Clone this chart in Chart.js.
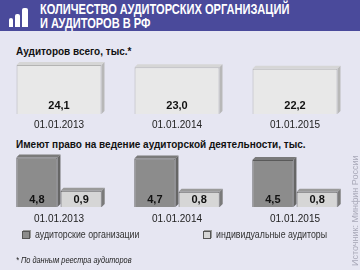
<!DOCTYPE html>
<html>
<head>
<meta charset="utf-8">
<script src="https://cdn.jsdelivr.net/npm/chart.js@4/dist/chart.umd.min.js"></script>
<style>
  body { margin:0; width:360px; height:270px; background:#e6e6f2; font-family:"Liberation Sans", Arial, sans-serif; position:relative; overflow:hidden; }
  .hdr { position:absolute; left:0; top:0; width:360px; height:31px; background:#4a4a9b; }
  .hdr .t { position:absolute; left:40px; top:2px; color:#fff; font-weight:bold; font-size:14px; line-height:14px; white-space:nowrap; transform-origin:0 0; }
  .ic { position:absolute; background:#fff; border-radius:2px 2px 0 0; }
  .sub { position:absolute; left:16px; font-weight:bold; font-size:10px; color:#111; white-space:nowrap; }
  .box { position:absolute; }
  .sq { position:absolute; top:231px; width:6px; height:6px; border:1px solid #555; box-shadow:1px -1px 0 #999; }
  .leg { position:absolute; top:228px; font-size:11px; color:#333; white-space:nowrap; transform:scaleX(0.8); transform-origin:0 0; }
  .note { position:absolute; left:16px; top:255px; font-size:9px; font-style:italic; color:#222; white-space:nowrap; transform:scaleX(0.82); transform-origin:0 0; }
  .src { position:absolute; left:350px; top:266px; font-size:9px; color:#a8a8b8; transform:rotate(-90deg); transform-origin:0 0; white-space:nowrap; }
</style>
</head>
<body>
<div class="hdr">
  <div class="ic" style="left:9px;top:18px;width:4px;height:9px"></div>
  <div class="ic" style="left:15px;top:14px;width:5px;height:13px"></div>
  <div class="ic" style="left:22px;top:8px;width:6px;height:19px"></div>
  <div class="t" id="title">КОЛИЧЕСТВО АУДИТОРСКИХ ОРГАНИЗАЦИЙ<br>И АУДИТОРОВ В РФ</div>
</div>
<div class="sub" style="top:46px">Аудиторов всего, тыс.*</div>
<div class="box" style="left:0;top:57px;width:360px;height:74px"><canvas id="top"></canvas></div>
<div class="sub" style="top:139px">Имеют право на ведение аудиторской деятельности, тыс.</div>
<div class="box" style="left:0;top:151px;width:360px;height:78px"><canvas id="bottom"></canvas></div>
<div class="sq" style="left:22px;background:#8c8c8c"></div>
<div class="leg" style="left:35px">аудиторские организации</div>
<div class="sq" style="left:203px;background:#d6d6d6"></div>
<div class="leg" style="left:216px">индивидуальные аудиторы</div>
<div class="note">* По данным реестра аудиторов</div>
<div class="src">Источник: Минфин России</div>

<script>
const dates = ["01.01.2013", "01.01.2014", "01.01.2015"];
const auditorsTotal = [24.1, 23.0, 22.2];
const auditFirms = [4.8, 4.7, 4.5];
const individualAuditors = [0.9, 0.8, 0.8];

// fit title to the width it has in the original
const title = document.getElementById("title");
title.style.transform = "scaleX(" + (249 / title.offsetWidth) + ")";

const fmt = v => v.toFixed(1).replace(".", ",");

// fake 3d sides + value labels
const boxes3d = {
  id: "boxes3d",
  beforeDatasetsDraw(chart) {
    const ctx = chart.ctx;
    const d = chart.options.depth;
    chart.data.datasets.forEach((ds, i) => {
      chart.getDatasetMeta(i).data.forEach(bar => {
        const l = bar.x - bar.width / 2, r = bar.x + bar.width / 2;
        const t = bar.y, b = bar.base;
        ctx.save();
        ctx.fillStyle = ds.topColor;
        ctx.beginPath();
        ctx.moveTo(l, t); ctx.lineTo(l + d, t - d); ctx.lineTo(r + d, t - d); ctx.lineTo(r, t);
        ctx.fill();
        ctx.fillStyle = ds.sideColor;
        ctx.beginPath();
        ctx.moveTo(r, t); ctx.lineTo(r + d, t - d); ctx.lineTo(r + d, b - d); ctx.lineTo(r, b);
        ctx.fill();
        ctx.restore();
      });
    });
  },
  afterDatasetsDraw(chart) {
    const ctx = chart.ctx;
    ctx.save();
    ctx.font = "bold 11px 'Liberation Sans', Arial";
    ctx.fillStyle = "#111";
    ctx.textAlign = "center";
    ctx.textBaseline = "middle";
    chart.data.datasets.forEach((ds, i) => {
      chart.getDatasetMeta(i).data.forEach((bar, j) => {
        ctx.fillText(fmt(ds.data[j]), bar.x, bar.base - chart.options.labelOffset);
      });
    });
    ctx.restore();
  }
};

// x axis with a fixed height so the bar bottoms land where they should
const xAxis = (pad, h) => ({
  grid: { display: false, drawTicks: false },
  border: { display: false },
  ticks: { color: "#222", font: { family: "'Liberation Sans', Arial", size: 10 }, padding: pad },
  afterFit: s => { s.height = h; }
});

new Chart(document.getElementById("top"), {
  type: "bar",
  data: {
    labels: dates,
    datasets: [{
      data: auditorsTotal,
      backgroundColor: "#e8e8e8",
      borderColor: "#b4b4b4",
      borderWidth: 1,
      topColor: "#d6d6d6",
      sideColor: "#b8b8b8",
      categoryPercentage: 0.72,
      barPercentage: 1
    }]
  },
  options: {
    responsive: true,
    maintainAspectRatio: false,
    animation: false,
    depth: 3,
    labelOffset: 8,
    layout: { padding: { top: 4, right: 6, left: 0, bottom: 0 } },
    plugins: { legend: { display: false }, tooltip: { enabled: false } },
    scales: {
      x: xAxis(5, 17),
      y: { display: false, min: 0, max: 26.07 }
    }
  },
  plugins: [boxes3d]
});

new Chart(document.getElementById("bottom"), {
  type: "bar",
  data: {
    labels: dates,
    datasets: [{
      label: "аудиторские организации",
      data: auditFirms,
      base: -1,
      backgroundColor: "#8c8c8c",
      borderColor: "#5a5a5a",
      borderWidth: 1,
      topColor: "#7a7a7a",
      sideColor: "#666",
      categoryPercentage: 0.75,
      barPercentage: 0.93
    }, {
      label: "индивидуальные аудиторы",
      data: individualAuditors,
      base: -1,
      backgroundColor: "#d6d6d6",
      borderColor: "#5a5a5a",
      borderWidth: 1,
      topColor: "#9a9a9a",
      sideColor: "#7a7a7a",
      categoryPercentage: 0.75,
      barPercentage: 0.93
    }]
  },
  options: {
    responsive: true,
    maintainAspectRatio: false,
    animation: false,
    depth: 3,
    labelOffset: 7,
    layout: { padding: { top: 4, right: 6, left: 0, bottom: 0 } },
    plugins: { legend: { display: false }, tooltip: { enabled: false } },
    scales: {
      x: xAxis(6, 22),
      y: { display: false, min: -1, max: 5.1 }
    }
  },
  plugins: [boxes3d]
});
</script>
</body>
</html>
